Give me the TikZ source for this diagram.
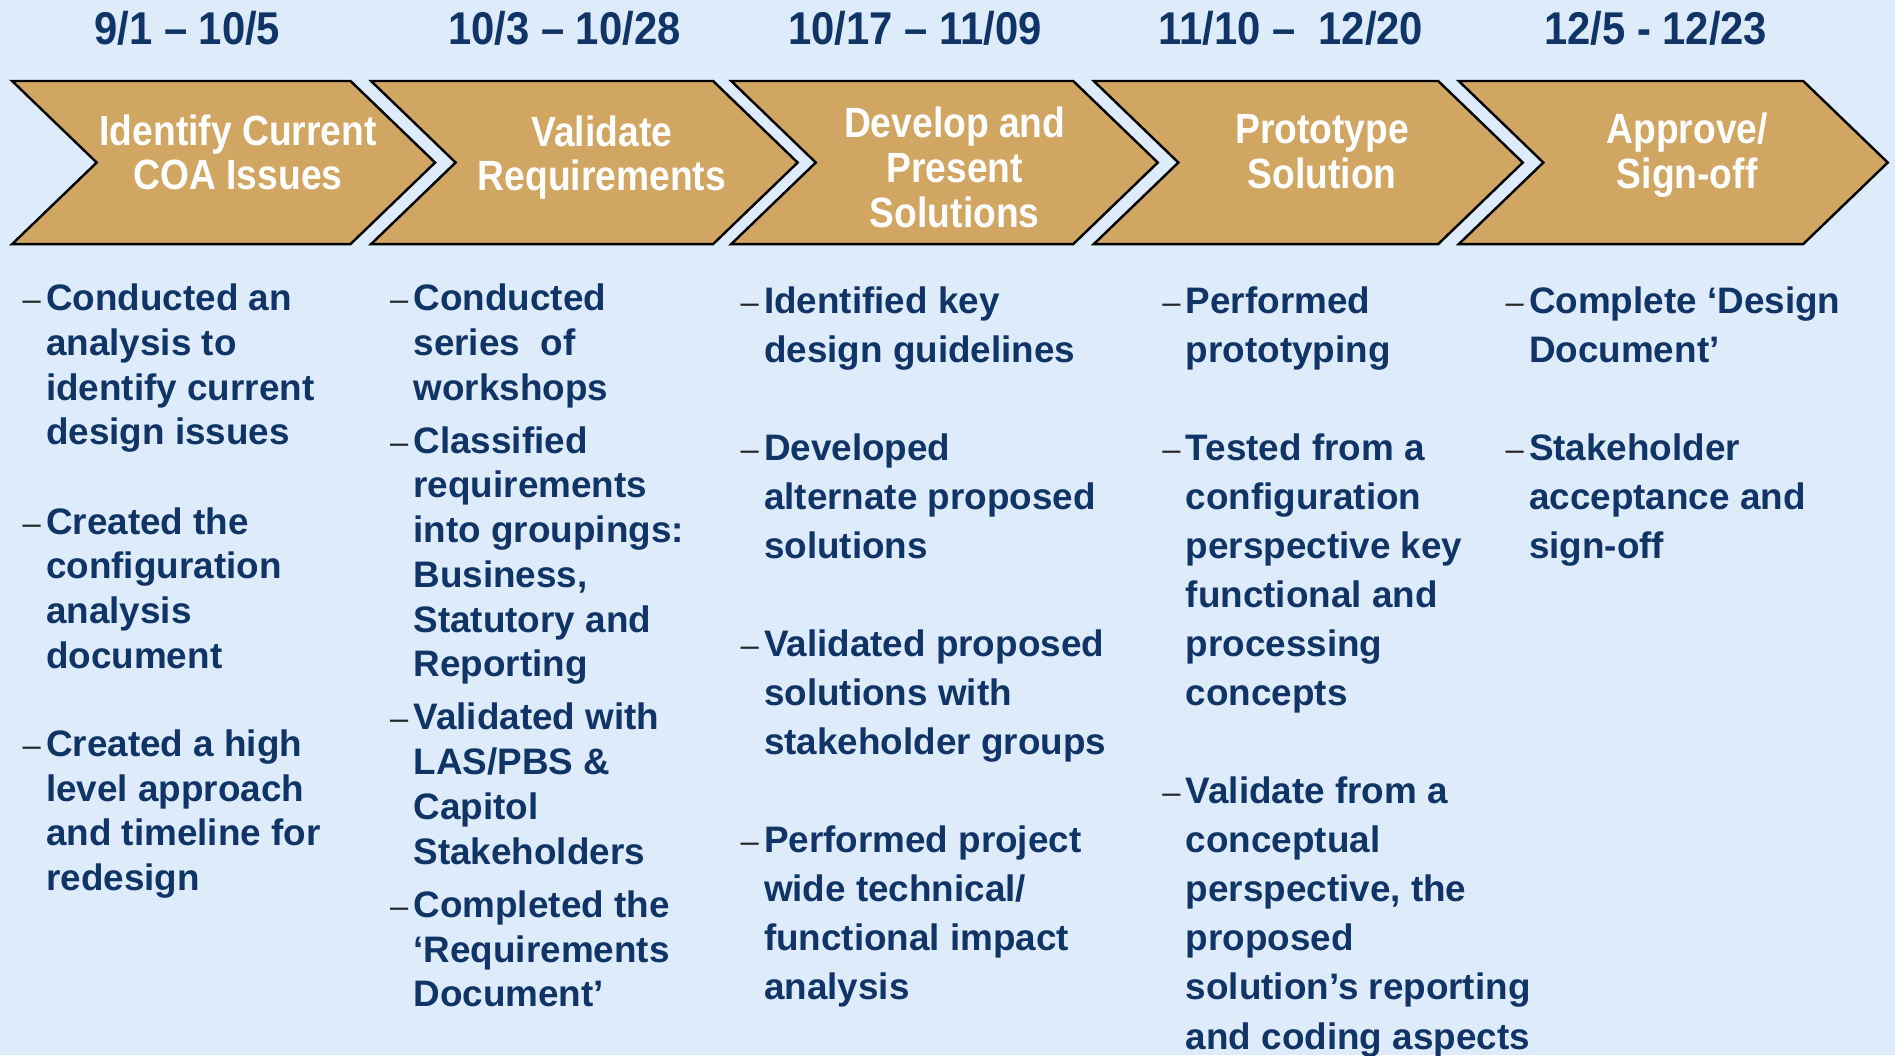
\documentclass[tikz,border=0pt]{standalone}
\usepackage{fontspec}
\setmainfont{Liberation Sans}
\newfontfamily\datefont[FakeStretch=0.91]{Liberation Sans}
\newfontfamily\stepfont[FakeStretch=0.88]{Liberation Sans}
\usetikzlibrary{positioning}
\definecolor{bgblue}{RGB}{221,235,250}
\definecolor{chevtan}{RGB}{208,166,98}
\definecolor{navytext}{RGB}{16,52,102}
\tikzset{
  chevron/.style  = {draw=black, line width=2pt, fill=chevtan, line join=miter},
  datelabel/.style = {inner sep=0pt, anchor=base, text=navytext,
    font=\datefont\bfseries\fontsize{38}{40}\selectfont},
  steplabel/.style = {inner sep=0pt, anchor=base, text=white,
    font=\stepfont\bfseries\fontsize{35}{37}\selectfont},
  bodytext/.style  = {inner sep=0pt, anchor=base west, text=navytext,
    font=\bfseries\fontsize{30.5}{37}\selectfont},
  widetext/.style  = {bodytext, font=\bfseries\fontsize{30.5}{40.6}\selectfont},
  dashmark/.style  = {inner sep=0pt, anchor=base east, text=black!85,
    font=\mdseries\fontsize{27}{30}\selectfont, xshift=-4pt}
}
\newcommand{\lines}[1]{\begin{tabular}[t]{@{}l@{}}#1\end{tabular}}
\newcommand{\clines}[1]{\begin{tabular}[t]{@{}c@{}}#1\end{tabular}}

\begin{document}
\begin{tikzpicture}[x=1pt, y=-1pt]
  \useasboundingbox[fill=bgblue] (0,0) rectangle (1568,873);

% the five phase arrows
  \foreach \x/\w in {10/350, 307/353, 605/353, 905/355, 1207/355}
    \draw[chevron] (\x,67) -- ++(\w-70,0) -- ++(70,67.5) -- ++(-70,67.5)
      -- ++(-\w+70,0) -- ++(70,-67.5) -- cycle;

% dates above the arrows
  \node[datelabel] (d1) at (155,37) {9/1 – 10/5};
  \node[datelabel] (d2) at (467,37) {10/3 – 10/28};
  \node[datelabel] (d3) at (757,37) {10/17 – 11/09};
  \node[datelabel] (d4) at (1068,37) {11/10 –\ \ 12/20};
  \node[datelabel] (d5) at (1370,37) {12/5 - 12/23};

% phase names
  \node[steplabel] (p1) at (197,120) {\clines{Identify Current\\COA Issues}};
  \node[steplabel] (p2) at (498,121) {\clines{Validate\\Requirements}};
  \node[steplabel] (p3) at (790,114) {\clines{Develop and\\Present\\Solutions}};
  \node[steplabel] (p4) at (1094,119) {\clines{Prototype\\Solution}};
  \node[steplabel] (p5) at (1396,119) {\clines{Approve/\\Sign-off}};

% first column
  \node[bodytext] (c1a) at (38,257) {\lines{Conducted an\\analysis to\\identify current\\design issues}};
  \node[bodytext] (c1b) at (38,442) {\lines{Created the\\configuration\\analysis\\document}};
  \node[bodytext] (c1c) at (38,626) {\lines{Created a high\\level approach\\and timeline for\\redesign}};

% second column
  \node[bodytext] (c2a) at (342,257) {\lines{Conducted\\series\ \ of\\workshops}};
  \node[bodytext] (c2b) at (342,375) {\lines{Classified\\requirements\\into groupings:\\Business,\\Statutory and\\Reporting}};
  \node[bodytext] (c2c) at (342,604) {\lines{Validated with\\LAS/PBS \&\\Capitol\\Stakeholders}};
  \node[bodytext] (c2d) at (342,759) {\lines{Completed the\\‘Requirements\\Document’}};

% third column
  \node[widetext] (c3a) at (632,259) {\lines{Identified key\\design guidelines}};
  \node[widetext] (c3b) at (632,381) {\lines{Developed\\alternate proposed\\solutions}};
  \node[widetext] (c3c) at (632,543) {\lines{Validated proposed\\solutions with\\stakeholder groups}};
  \node[widetext] (c3d) at (632,705) {\lines{Performed project\\wide technical/\\functional impact\\analysis}};

% fourth column
  \node[widetext] (c4a) at (981,259) {\lines{Performed\\prototyping}};
  \node[widetext] (c4b) at (981,381) {\lines{Tested from a\\configuration\\perspective key\\functional and\\processing\\concepts}};
  \node[widetext] (c4c) at (981,665) {\lines{Validate from a\\conceptual\\perspective, the\\proposed\\solution’s reporting\\and coding aspects}};

% fifth column
  \node[widetext] (c5a) at (1265,259) {\lines{Complete ‘Design\\Document’}};
  \node[widetext] (c5b) at (1265,381) {\lines{Stakeholder\\acceptance and\\sign-off}};

% dashes in front of every item
  \foreach \n in {c1a,c1b,c1c,c2a,c2b,c2c,c2d,c3a,c3b,c3c,c3d,c4a,c4b,c4c,c5a,c5b}
    \node[dashmark] (dash-\n) at (\n.base west) {–};
\end{tikzpicture}
\end{document}
